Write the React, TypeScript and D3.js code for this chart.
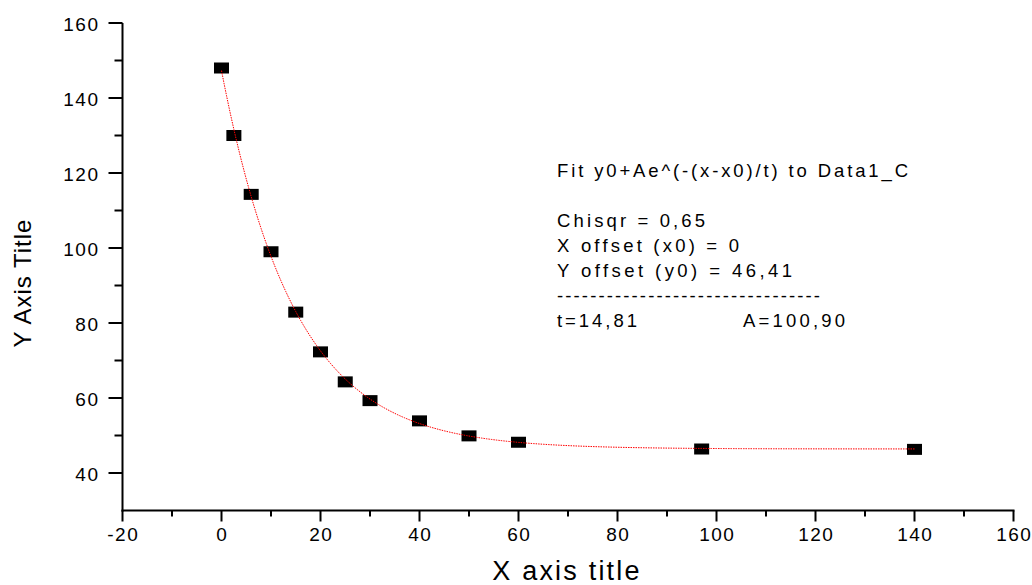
import React from "react";
import * as d3 from "d3";

const xData = [0, 2.5, 6, 10, 15, 20, 25, 30, 40, 50, 60, 97, 140];
const yData = [148, 130, 114.3, 99, 82.9, 72.3, 64.3, 59.3, 53.9, 49.9, 48.2, 46.4, 46.3];

const FIT_Y0 = 46.41;
const FIT_A = 100.9;
const FIT_T = 14.81;
const FIT_X_RANGE = [0, 140];

const xMajorTicks = [-20, 0, 20, 40, 60, 80, 100, 120, 140, 160];
const xMinorTicks = [-10, 10, 30, 50, 70, 90, 110, 130, 150];
const yMajorTicks = [40, 60, 80, 100, 120, 140, 160];
const yMinorTicks = [50, 70, 90, 110, 130, 150];

const annotationLines = [
  "Fit y0+Ae^(-(x-x0)/t) to Data1_C",
  "",
  "Chisqr = 0,65",
  "X offset (x0) = 0",
  "Y offset (y0) = 46,41",
  "--------------------------------",
  "t=14,81",
];
const annotationWidths = [351, 0, 148, 182, 235, 263, 80];
const annotationRight = "A=100,90";

const FONT = "'Liberation Sans', Arial, Helvetica, sans-serif";

export default function App() {
  const W = 1032;
  const H = 585;
  const x = d3.scaleLinear().domain([-20, 160]).range([122.5, 1013.5]);
  const y = d3.scaleLinear().domain([30, 160]).range([510.5, 23]);

  const fitXs = d3.range(FIT_X_RANGE[0], FIT_X_RANGE[1] + 0.01, 0.5);
  const fitLine = d3
    .line<number>()
    .x((d) => x(d))
    .y((d) => y(FIT_Y0 + FIT_A * Math.exp(-d / FIT_T)));

  const x0 = x(-20);
  const yBase = y(30);

  return (
    <svg
      width={W}
      height={H}
      style={{ position: "absolute", left: 0, top: 0, background: "#fff" }}
      fontFamily={FONT}
    >
      <rect x={0} y={0} width={W} height={H} fill="#fff" />
      {/* axes lines */}
      <line x1={x0} x2={x0} y1={y(160)} y2={yBase + 1} stroke="#000" strokeWidth={2} />
      <line x1={x0 - 1} x2={x(160) + 1} y1={yBase} y2={yBase} stroke="#000" strokeWidth={2} />

      {/* y ticks */}
      {yMajorTicks.map((t) => (
        <g key={"ym" + t}>
          <line x1={x0 - 14} x2={x0} y1={y(t)} y2={y(t)} stroke="#000" strokeWidth={2} />
          <text
            x={99.5}
            y={y(t) + 7.5}
            textAnchor="end"
            fontSize={19}
            letterSpacing={1.5}
            fill="#000"
          >
            {t}
          </text>
        </g>
      ))}
      {yMinorTicks.map((t) => (
        <line key={"yn" + t} x1={x0 - 8} x2={x0} y1={y(t)} y2={y(t)} stroke="#000" strokeWidth={2} />
      ))}

      {/* x ticks */}
      {xMajorTicks.map((t) => (
        <g key={"xm" + t}>
          <line x1={x(t)} x2={x(t)} y1={yBase} y2={yBase + 11} stroke="#000" strokeWidth={2} />
          <text
            x={x(t) + 0.75}
            y={540.5}
            textAnchor="middle"
            fontSize={19}
            letterSpacing={1.5}
            fill="#000"
          >
            {t}
          </text>
        </g>
      ))}
      {xMinorTicks.map((t) => (
        <line key={"xn" + t} x1={x(t)} x2={x(t)} y1={yBase} y2={yBase + 6} stroke="#000" strokeWidth={2} />
      ))}

      {/* axis titles */}
      <text
        transform={`translate(31,283) rotate(-90)`}
        textAnchor="middle"
        fontSize={24}
        letterSpacing={1}
        fill="#000"
      >
        Y Axis Title
      </text>
      <text x={567} y={580} textAnchor="middle" fontSize={27} letterSpacing={2.2} fill="#000">
        X axis title
      </text>

      {/* markers */}
      {xData.map((d, i) => (
        <rect
          key={"p" + i}
          x={x(d) - 7.5}
          y={y(yData[i]) - 5.5}
          width={15}
          height={11}
          fill="#000"
        />
      ))}

      {/* fit curve */}
      <path
        d={fitLine(fitXs) || ""}
        fill="none"
        stroke="#ff0000"
        strokeWidth={1}
        strokeDasharray="1.5 1"
      />

      {/* annotation */}
      {annotationLines.map((s, i) =>
        s ? (
          <text
            key={"a" + i}
            x={557}
            y={177 + 25 * i}
            fontSize={18.5}
            fill="#000"
            textLength={annotationWidths[i]}
            lengthAdjust="spacing"
          >
            {s}
          </text>
        ) : null
      )}
      <text x={743} y={327} fontSize={18.5} fill="#000" textLength={102} lengthAdjust="spacing">
        {annotationRight}
      </text>
    </svg>
  );
}
